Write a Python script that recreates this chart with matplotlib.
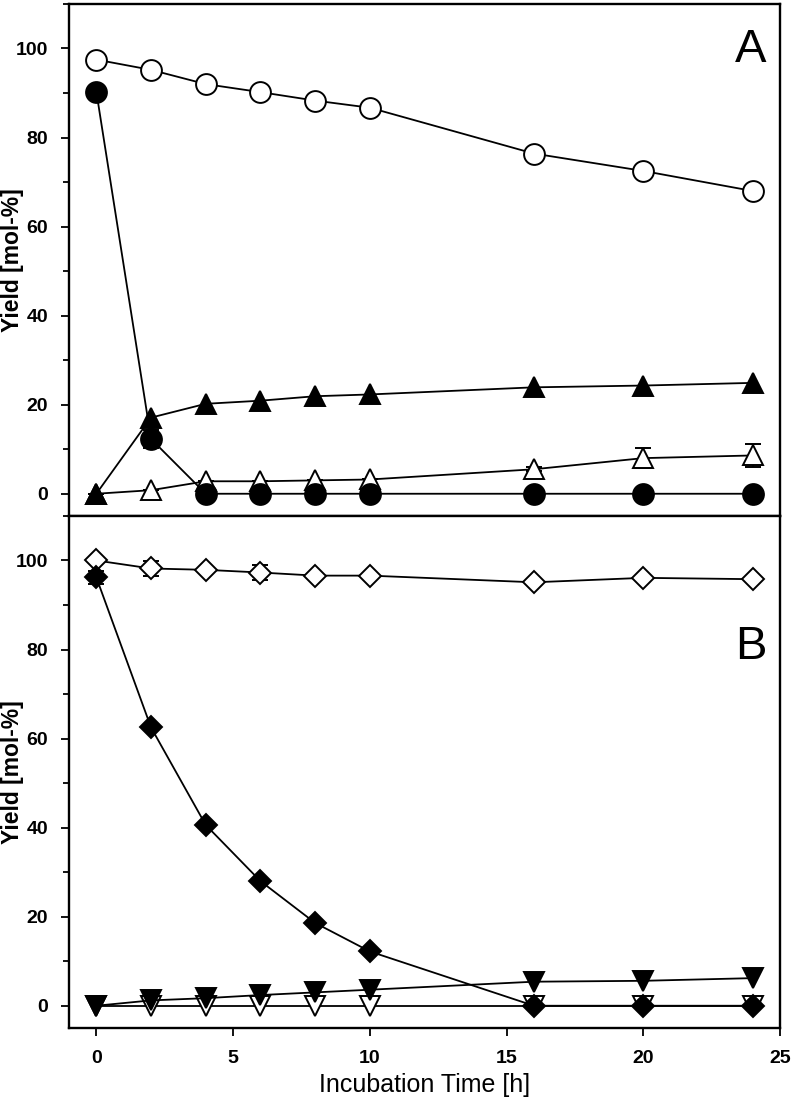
import matplotlib
matplotlib.use("Agg")
import matplotlib.pyplot as plt
from matplotlib.ticker import MultipleLocator

plt.rcParams['font.family'] = ['Liberation Sans', 'DejaVu Sans']

# ---- data ----
time_h = [0, 2, 4, 6, 8, 10, 16, 20, 24]

# Panel A
a_open_circle = [97.5, 95.2, 92.0, 90.2, 88.3, 86.7, 76.4, 72.5, 68.0]
a_open_circle_err = [0, 0, 1.2, 0, 0, 0, 0, 0, 0]
a_filled_circle = [90.3, 12.3, 0, 0, 0, 0, 0, 0, 0]
a_filled_circle_err = [0, 2.0, 0, 0, 0, 0, 0, 0, 0]
a_filled_triangle = [0, 17.1, 20.2, 20.9, 21.9, 22.3, 23.9, 24.3, 24.9]
a_open_triangle = [0, 0.8, 2.8, 2.8, 3.0, 3.2, 5.5, 8.0, 8.6]
a_open_triangle_err = [0, 0, 0, 0, 0, 0, 0.5, 2.3, 2.6]

# Panel B
b_open_diamond = [100.0, 98.2, 97.9, 97.3, 96.6, 96.6, 95.1, 96.1, 95.8]
b_open_diamond_err = [0, 1.6, 0, 1.6, 0, 0, 0, 0, 0]
b_filled_diamond = [96.2, 62.5, 40.6, 28.0, 18.6, 12.2, 0, 0, 0]
b_filled_diamond_err = [1.5, 0, 0, 0, 0, 0, 0, 0, 0]
b_filled_down = [0, 1.2, 1.7, 2.4, 3.0, 3.6, 5.4, 5.6, 6.2]
b_open_down = [0, 0, 0, 0, 0, 0, 0, 0, 0]

xticks = [0, 5, 10, 15, 20, 25]
yticks = [0, 20, 40, 60, 80, 100]

fig = plt.figure(figsize=(7.93, 11.0), dpi=100)
left, width = 0.087, 0.8966
axA = fig.add_axes([left, 0.5309, width, 0.4655])
axB = fig.add_axes([left, 0.06545, width, 0.4655])

lw = 1.3
mew = 1.4
cap = 6


def series(ax, y, err, marker, ms, face, z):
    ax.errorbar(time_h, y, yerr=err if err is not None else None,
                color='black', lw=lw, marker=marker, ms=ms,
                mfc=face, mec='black', mew=mew, capsize=cap,
                elinewidth=1.2, capthick=1.2, zorder=z)


series(axA, a_open_circle, a_open_circle_err, 'o', 15, 'white', 3)
series(axA, a_open_triangle, a_open_triangle_err, '^', 14, 'white', 4)
series(axA, a_filled_triangle, None, '^', 14, 'black', 5)
series(axA, a_filled_circle, a_filled_circle_err, 'o', 15, 'black', 6)

series(axB, b_open_down, None, 'v', 14, 'white', 3)
series(axB, b_open_diamond, b_open_diamond_err, 'D', 11, 'white', 4)
series(axB, b_filled_down, None, 'v', 14, 'black', 5)
series(axB, b_filled_diamond, b_filled_diamond_err, 'D', 11, 'black', 6)

for ax in (axA, axB):
    ax.set_xlim(-1, 25)
    ax.set_ylim(-5, 110)
    ax.set_yticks(yticks)
    ax.yaxis.set_minor_locator(MultipleLocator(10))
    ax.tick_params(axis='y', which='major', direction='out', length=6,
                   width=1.3, labelsize=14, pad=9)
    ax.tick_params(axis='y', which='minor', direction='out', length=4,
                   width=1.3)
    for lbl in ax.get_yticklabels():
        lbl.set_fontweight('bold')
    for s in ax.spines.values():
        s.set_linewidth(1.7)
    ax.set_ylabel('Yield [mol-%]', fontsize=16.5, fontweight='bold',
                  va='center')
    ax.yaxis.set_label_coords(-0.079, 0.5)

axA.set_xticks([])
axB.set_xticks(xticks)
axB.tick_params(axis='x', direction='out', length=6, width=1.3,
                labelsize=14, pad=10)
for lbl in axB.get_xticklabels():
    lbl.set_fontweight('bold')
axB.set_xlabel('Incubation Time [h]', fontsize=18, labelpad=4)

axA.text(0.959, 0.91, 'A', transform=axA.transAxes, fontsize=34,
         ha='center', va='center')
axB.text(0.959, 0.745, 'B', transform=axB.transAxes, fontsize=34,
         ha='center', va='center')

fig.savefig('out.png', dpi=100)
